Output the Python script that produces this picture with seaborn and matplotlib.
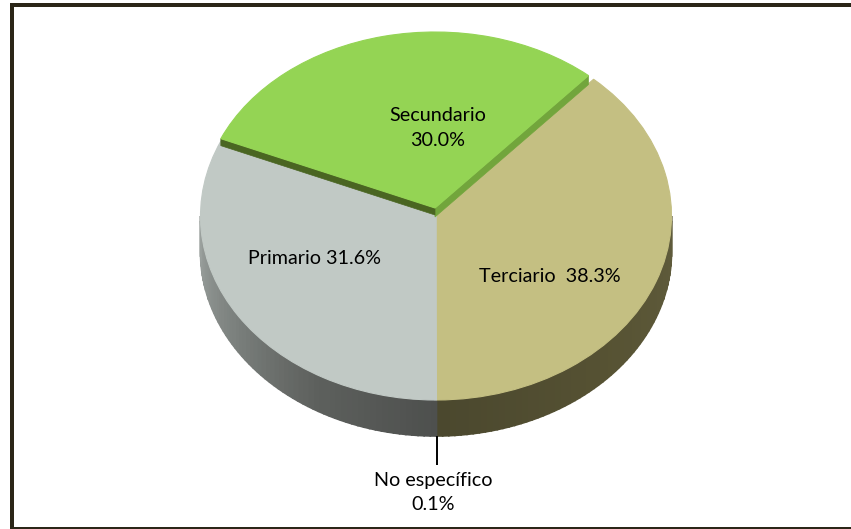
import numpy as np
import matplotlib.pyplot as plt
from matplotlib.patches import Rectangle
import seaborn as sns

# data
sectors = ['Terciario', 'No específico', 'Primario', 'Secundario']
shares = [38.3, 0.1, 31.6, 30.0]
top_colors = ['#c4bf82', '#c1c9c5', '#c1c9c5', '#94d454']
labels = ['Terciario  38.3%', 'No específico\n0.1%', 'Primario 31.6%', 'Secundario\n30.0%']

W, H = 851, 529
START = 48  # the tan slice starts here, going clockwise

sns.set_theme(style='white')
plt.rcParams['font.family'] = ['Lato', 'DejaVu Sans']

fig = plt.figure(figsize=(W / 100, H / 100), dpi=100, facecolor='white')


def pie_axes(cx, cy, rx, ry):
    """Axes where the unit pie lands on an ellipse given in pixels."""
    ax = fig.add_axes([(cx - rx) / W, 1 - (cy + ry) / H, 2 * rx / W, 2 * ry / H])
    ax.patch.set_alpha(0)
    return ax


def fix_limits(ax):
    # pie() forces equal aspect, the tilted disc needs it squashed
    ax.set_aspect('auto')
    ax.set_xlim(-1, 1)
    ax.set_ylim(-1, 1)


def seal(wedges):
    # same colour edge, otherwise white seams show between the slices
    for w in wedges:
        w.set_clip_on(False)
        w.set_edgecolor(w.get_facecolor())
        w.set_linewidth(0.8)


RY = 184
DEPTH = 36 / RY
ax = pie_axes(436, 216, 235.5, RY)

# side wall of the disc, shaded with a blended palette
tan_deg = shares[0] * 3.6
clock_start = 90 - START
clock_end = clock_start + tan_deg
n = 60
tan_angles = np.linspace(90, clock_end, n + 1)
grey_angles = np.linspace(clock_end, 270, n + 1)
walls = [(tan_angles, sns.blend_palette(['#605c3c', '#565233', '#4b482e'], n)),
         (grey_angles, sns.blend_palette(['#4e504e', '#5d605d', '#7c817e', '#9aa09d'], n))]
for angles, pal in walls:
    for a0, a1, col in zip(angles[:-1], angles[1:], pal):
        t = np.radians([a0, a1])
        xs = np.sin(t)
        ys = np.cos(t)
        ax.fill([xs[0], xs[1], xs[1], xs[0]],
                [ys[0], ys[1], ys[1] - DEPTH, ys[0] - DEPTH],
                color=col, lw=1.2, zorder=1, clip_on=False)

# top face, without the green slice
base_colors = list(top_colors)
base_colors[3] = 'none'
wedges, _ = ax.pie(shares, colors=base_colors, startangle=START, counterclock=False,
                   radius=1, wedgeprops={'lw': 0, 'zorder': 2})
seal(wedges)
fix_limits(ax)

# pulled out green slice, with its two cut faces
gx, gy, grx, gry = 435, 208, 233, 176
ax_g = pie_axes(gx, gy, grx, gry)
green_colors = ['none', 'none', 'none', top_colors[3]]
wedges_g, _ = ax_g.pie(shares, colors=green_colors, startangle=START + 0.8, counterclock=False,
                       radius=1, wedgeprops={'lw': 0, 'zorder': 3})
seal(wedges_g)
fix_limits(ax_g)
edge_right = np.radians(clock_start - 0.8)
edge_left = np.radians(clock_start - 0.8 - shares[3] * 3.6)
# right face a bit deeper so it closes the gap to the tan slice
for a, col, z, thick in [(edge_right, '#72a53c', 2, 9 / gry), (edge_left, '#4a6522', 2.5, 7 / gry)]:
    ax_g.fill([0, np.sin(a), np.sin(a), 0],
              [0, np.cos(a), np.cos(a) - thick, -thick],
              color=col, lw=0.5, zorder=z, clip_on=False)

# overlay in pixel coordinates for labels, leader and frame
ov = fig.add_axes([0, 0, 1, 1])
ov.set_xlim(0, W)
ov.set_ylim(H, 0)
ov.axis('off')
ov.patch.set_alpha(0)

ov.plot([437, 437], [436, 465], color='black', lw=1.4, solid_capstyle='butt')
label_pos = [(550, 276.5), (433, 492.5), (314, 258), (438, 128)]
for txt, (x, y) in zip(labels, label_pos):
    ov.text(x, y, txt, ha='center', va='center', fontsize=14.2, color='black', linespacing=1.55)

frame = '#2b2618'
ov.add_patch(Rectangle((10, 3), W - 10, 3.5, color=frame, lw=0))
ov.add_patch(Rectangle((10, 3), 4, H - 3, color=frame, lw=0))
ov.add_patch(Rectangle((10, 526.5), W - 10, 2.5, color=frame, lw=0))

fig.savefig('out.png', dpi=100)
